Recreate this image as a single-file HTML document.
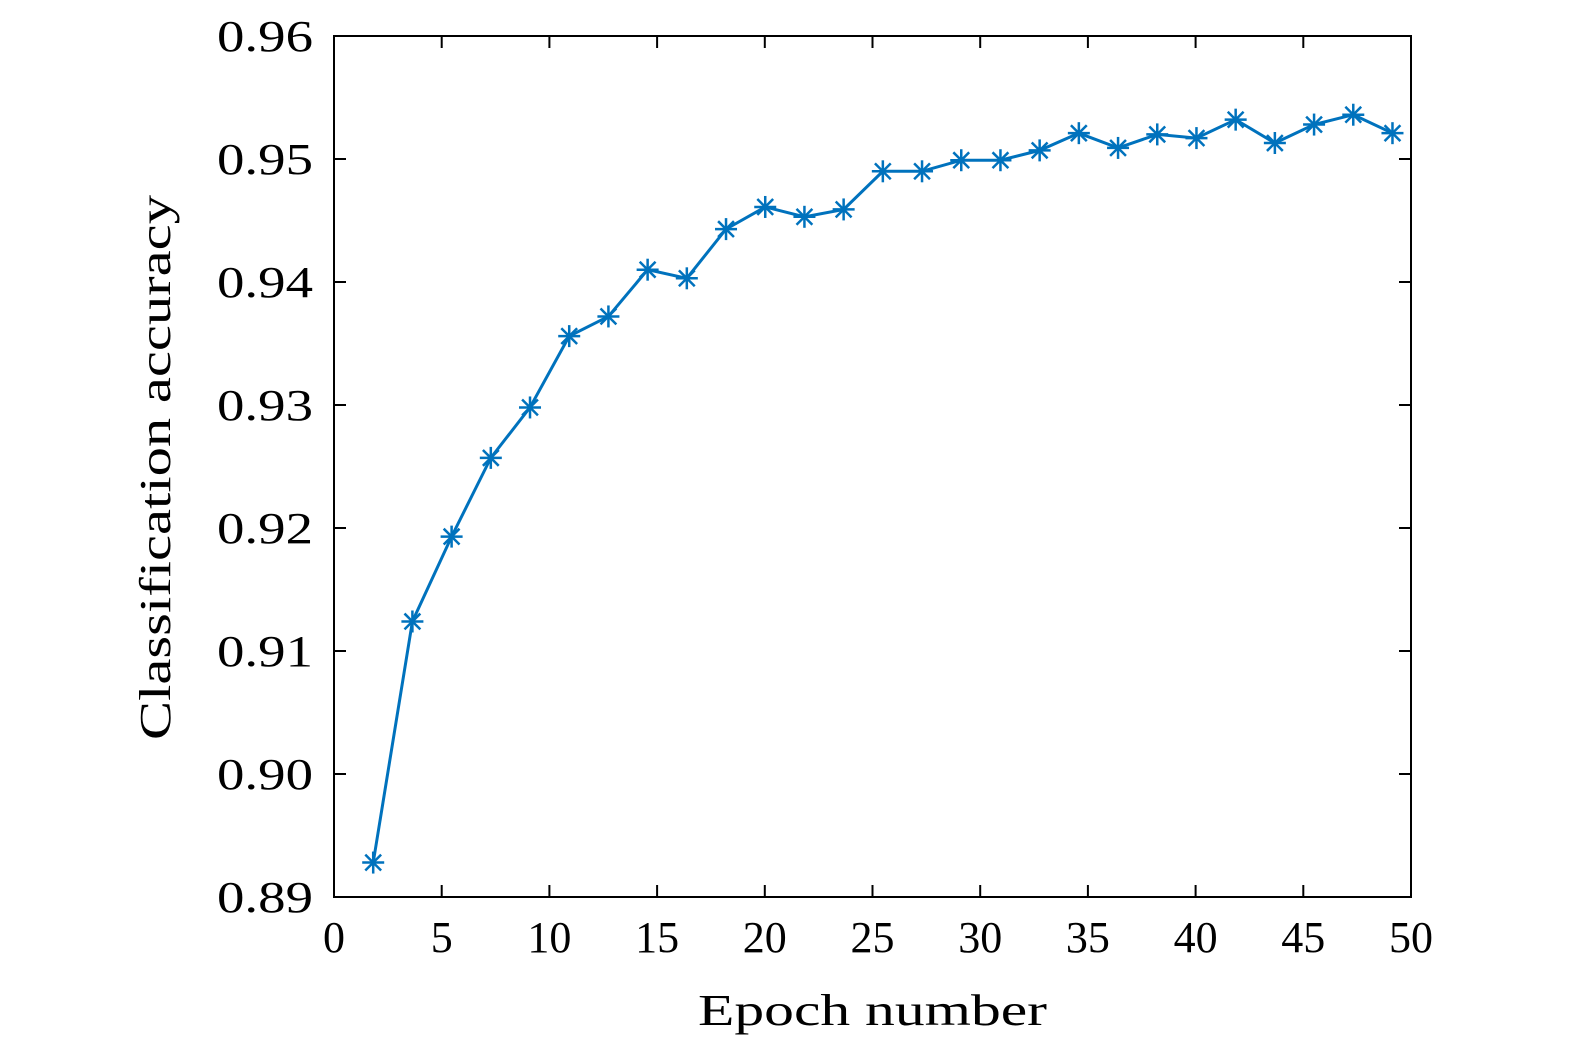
<!DOCTYPE html>
<html><head><meta charset="utf-8"><style>
body{margin:0;background:#fff}
svg text{font-family:"Liberation Serif",serif;fill:#000}
</style></head><body>
<svg width="1575" height="1053">
<g id="g"></g>
</svg>
<script>
const xTicks=[0,5,10,15,20,25,30,35,40,45,50];
const yTicks=[0.89,0.90,0.91,0.92,0.93,0.94,0.95,0.96];
const yTickLabels=["0.89","0.90","0.91","0.92","0.93","0.94","0.95","0.96"];
const epochs=[1.82,3.64,5.46,7.28,9.1,10.92,12.74,14.56,16.38,18.2,20.02,21.84,23.66,25.48,27.3,29.12,30.94,32.76,34.58,36.4,38.22,40.04,41.86,43.68,45.5,47.32,49.14];
const accuracy=[0.8928,0.9124,0.9193,0.9257,0.9298,0.9356,0.9372,0.9410,0.9403,0.9443,0.9461,0.9453,0.9459,0.9490,0.9490,0.9499,0.9499,0.9507,0.9521,0.9509,0.9520,0.9517,0.9532,0.9513,0.9528,0.9536,0.9521];
const L=334,R=1411,T=36,B=897;
const sx=v=>L+(v-0)/50*(R-L);
const sy=v=>B-(v-0.89)/0.07*(B-T);
const NS="http://www.w3.org/2000/svg";
const g=document.getElementById('g');
function mk(tag,attrs,parent){const e=document.createElementNS(NS,tag);for(const k in attrs)e.setAttribute(k,attrs[k]);(parent||g).appendChild(e);return e;}
const frame=mk('rect',{x:L,y:T,width:R-L,height:B-T,fill:'none',stroke:'#000','stroke-width':2});


xTicks.forEach(v=>{
  const x=sx(v);
  const t=mk('line',{x1:x,x2:x,y1:B,y2:B-12,stroke:'#000','stroke-width':2});
  
  
  mk('line',{x1:x,x2:x,y1:T,y2:T+12,stroke:'#000','stroke-width':2});
  const s=String(v);
  const tx=mk('text',{x:x,y:952,'text-anchor':'middle','font-size':44,textLength:s.length*22,lengthAdjust:'spacingAndGlyphs'});
  tx.textContent=s;
  
  
});
yTicks.forEach((v,i)=>{
  const y=sy(v);
  const t=mk('line',{x1:L,x2:L+12,y1:y,y2:y,stroke:'#000','stroke-width':2});
  
  
  mk('line',{x1:R,x2:R-12,y1:y,y2:y,stroke:'#000','stroke-width':2});
  const tx=mk('text',{x:217,y:y+15,'text-anchor':'start','font-size':44,textLength:96,lengthAdjust:'spacingAndGlyphs'});
  tx.textContent=yTickLabels[i];
  
  
});
const xt=mk('text',{x:698,y:1025,'font-size':44,textLength:349,lengthAdjust:'spacingAndGlyphs'});
xt.textContent='Epoch number';


const yt=mk('text',{x:0,y:0,'font-size':44,textLength:545,lengthAdjust:'spacingAndGlyphs',transform:'translate(170,740) rotate(-90)'});
yt.textContent='Classification accuracy';


const pts=epochs.map((e,i)=>sx(e)+','+sy(accuracy[i])).join(' ');
const line=mk('polyline',{points:pts,fill:'none',stroke:'#0072BD','stroke-width':3});


epochs.forEach((e,i)=>{
  const x=sx(e),y=sy(accuracy[i]),r=11;
  const m=mk('g',{stroke:'#0072BD','stroke-width':2.5});
  
  
  mk('line',{x1:x-r,x2:x+r,y1:y,y2:y},m);
  mk('line',{x1:x,x2:x,y1:y-r,y2:y+r},m);
  const d=r*0.72;
  mk('line',{x1:x-d,x2:x+d,y1:y-d,y2:y+d},m);
  mk('line',{x1:x-d,x2:x+d,y1:y+d,y2:y-d},m);
});
</script>
</body></html>
